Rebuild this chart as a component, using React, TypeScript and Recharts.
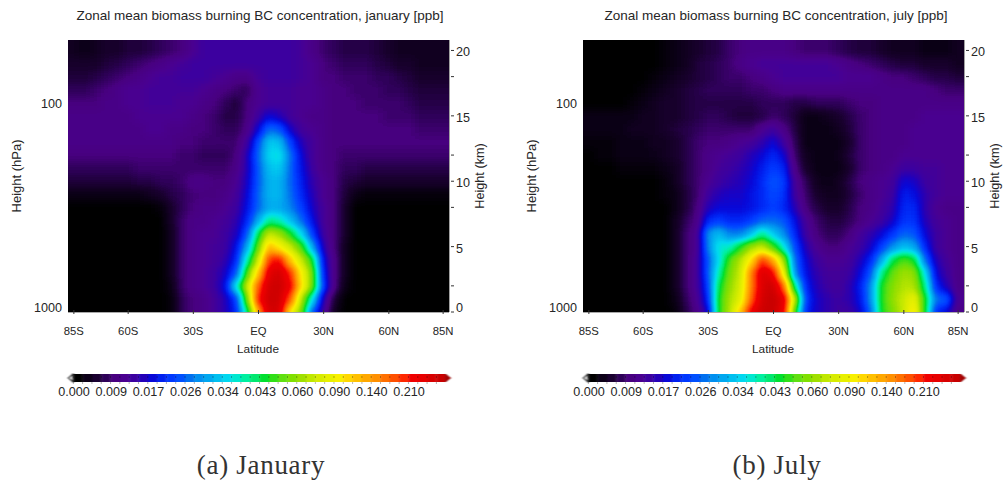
import React from "react";
import { ScatterChart, Scatter, XAxis, YAxis, BarChart, Bar, Cell } from "recharts";

// grid the fields were read on (deg lat, km)
const LATITUDES = [-85,-80,-75,-70,-65,-60,-55,-50,-45,-40,-35,-30,-25,-20,-15,-10,-5,0,5,10,15,20,25,30,35,40,45,50,55,60,65,70,75,80,85];
const ROW_KM = [0,1,2,3,4,5,6,7,8,9,10,11,12,13,14,15,16,17,18,19,20];

// BC concentration in 1e-3 ppb, one list per height
const jan0 = [0,0,0,0,0,0,0,0,0,1,7,9,10,12,15,20,40,130,280,270,90,55,24,13,3,0,0,0,0,0,0,0,0,0,0];
const jan1 = [0,0,0,0,0,0,0,0,0,1,7,9,10,12,15,22,55,200,290,280,170,65,35,15,5,0,0,0,0,0,0,0,0,0,0];
const jan2 = [0,0,0,0,0,0,0,0,0,2,8,10,11,13,18,36,70,170,280,290,220,100,55,22,10,2,0,0,0,0,0,0,0,0,0];
const jan3 = [0,0,0,0,0,0,0,0,0,3,8,10,11,13,16,24,50,110,250,280,190,90,55,20,10,3,0,0,0,0,0,0,0,0,0];
const jan4 = [0,0,0,0,0,0,0,0,0,3,8,10,11,12,14,20,38,70,190,210,110,70,45,18,10,3,0,0,0,0,0,0,0,0,0];
const jan5 = [0,0,0,0,0,0,0,0,0,3,8,10,11,12,13,18,30,52,120,90,70,50,30,15,9,3,0,0,0,0,0,0,0,0,0];
const jan6 = [0,0,0,0,0,0,0,0,0,3,8,10,11,11,13,15,24,42,70,60,45,34,22,13,9,4,0,0,0,0,0,0,0,0,0];
const jan7 = [0,0,0,0,0,0,0,0,0,4,8,10,10,11,12,14,20,30,40,38,32,26,18,12,9,4,0,0,0,0,0,0,0,0,0];
const jan8 = [0,0,0,0,0,0,0,0,1,4,7,9,10,10,11,13,18,25,30,30,27,22,16,12,9,4,0,0,0,0,0,0,0,0,0];
const jan9 = [2,2,2,2,2,2,2,3,4,6,7,8.5,9,9,10,12,17,25,31,31,26,20,15,11,9,5,2,1,1,1,1,1,1,1,1];
const jan10 = [5,5,5,5,5,5,6,6,7,7,8,10,10,9,9,11,16,24,31,31,25,19,14,11,9,6,5,4,4,4,4,4,4,4,4];
const jan11 = [7,7,7,7,7,7,8,8,8,8,8,8,8,8,8,10,15,24,32,33,25,18,13,10,9,7,7,6,6,6,6,6,6,6,6];
const jan12 = [9,9,9,9,9,9,9,9,9,9,8,8,7,7,7,9,15,25,34,35,26,17,12,10,9,8,8,8,8,8,8,8,8,8,8];
const jan13 = [10,10,10,10,10,10,10,10,10,10,9,9,8,8,8,8,13,23,33,32,22,15,12,10,9,9,9,9,9,9,9,9,9,9,9];
const jan14 = [10,10,10,10,10,10,10,11,11,10,10,9,9,8,7,7,10,17,26,24,16,12,11,10,9,9,9,9,9,9,9,9,8,8,8];
const jan15 = [10,10,10,10,10,10,11,11,11,11,11,10,9,8,6,6,9,13,17,15,12,11,10,10,9,9,9,9,9,8,8,8,7,7,7];
const jan16 = [9,9,9,10,10,11,11,12,12,12,11,11,10,9,7,5,9,11,12,12,12,11,11,10,9,9,9,8,8,8,8,7,6,6,6];
const jan17 = [7,7,8,9,10,11,11,12,12,12,12,12,11,10,9,8,7,11,12,12,12,11,11,10,9,9,8,8,8,7,7,6,5,5,5];
const jan18 = [5,5,6,7,8,9,10,11,12,12,13,13,13,12,11,10,10,12,13,13,13,12,11,9,9,8,8,8,7,7,6,5,4,4,4];
const jan19 = [4,4,4,5,6,7,8,9,10,11,12,13,13,13,13,13,13,13,13,13,13,12,11,9,8,7,7,7,6,5,4,4,3,3,3];
const jan20 = [3,2,3,4,4,5,5,6,7,8,9,11,13,13,13,13,13,13,13,13,13,12,10,8,7,6,6,6,5,4,3,3,3,3,3];

const jul0 = [0,0,0,0,0,0,0,0,1,6,10,16,45,65,110,230,290,300,230,50,20,16,14,13,13,16,25,45,55,70,100,45,20,17,10];
const jul1 = [0,0,0,0,0,0,0,0,2,7,11,20,45,62,80,170,280,300,250,70,22,16,14,13,14,18,28,46,58,70,85,46,26,24,11];
const jul2 = [0,0,0,0,0,0,0,0,3,8,12,22,42,58,75,150,270,290,170,40,20,15,13,12,14,19,28,46,56,65,65,40,20,15,10];
const jul3 = [0,0,0,0,0,0,0,0,3,8,12,24,38,55,70,150,270,220,85,28,18,14,12,12,13,17,24,40,52,60,58,35,17,13,10];
const jul4 = [0,0,0,0,0,0,0,0,3,8,12,24,34,50,65,100,190,130,60,26,17,13,11,11,12,15,20,30,42,50,45,26,15,12,10];
const jul5 = [0,0,0,0,0,0,0,0,3,8,11,27,36,37,46,60,70,50,36,23,15,11,9,9,11,13,16,22,28,32,30,20,13,11,10];
const jul6 = [0,0,0,0,0,0,0,0,3,8,11,28,32,27,27,32,40,33,28,20,13,9,7,7,9,12,14,17,21,25,24,17,13,11,10];
const jul7 = [0,0,0,0,0,0,0,0,3,7,10,20,22,20,20,22,25,26,24,18,12,8,6,5,7,9,11,13,16,21,21,15,12,11,10];
const jul8 = [0,0,0,0,0,0,0,0,2,5,9,15,17,17,17,18,20,22,20,15,9,6,4,4,6,9,10,12,14,20,20,14,11,10,10];
const jul9 = [0,0,0,0,0,0,0,1,2,5,8,13,15,16,16,18,20,23,21,13,8,4,3,3,5,8,10,11,13,19,18,14,12,11,11];
const jul10 = [0,0,0,0,0,0,0,1,3,6,8,11,13,14,15,17,20,24,22,12,7,3,2,3,6,9,10,11,12,17,16,13,12,11,11];
const jul11 = [0,0,0,1,1,1,1,2,3,6,8,10,12,13,14,16,19,22,20,10,4,2,2,2,4,8,9,10,11,13,13,12,12,11,11];
const jul12 = [0,1,1,2,2,2,2.5,3,4,6,8,10,11,12,13,15,17,20,17,8,3,2,2,2.5,5,8,9,10,10,11,11,11,11,11,11];
const jul13 = [1,1,1,2,2,2,3,3,4,6,8,9,9,10,11,12,14,17,13,7,2,2,2,2,4,8,9,10,10,10,11,11,11,11,11];
const jul14 = [2,2,2,2,3,3,3,4,5,6,7,8,8,8,8,8,11,13,10,6,2,2,2,3,5,8,9,10,10,10,11,11,11,11,11];
const jul15 = [2,2,2,2,2,3,3,4,4,5,6,7,7,6,5,5,6,8,7,5,2,2,3,4,6,8,9,10,10,10,10,11,11,11,11];
const jul16 = [0,0,0,0,1,2,3,4,4,5,6,6,6,6,6,6,7,7,7,6,6,7,7,7,8,9,9,10,10,10,10,10,10,10,10];
const jul17 = [0,0,0,0,0,1,2,3,4,5,6,7,7,7,7,8,8,9,10,10,10,10,10,10,10,10,10,10,10,10,10,10,9,8,8];
const jul18 = [0,0,0,0,0,0,1,2,3,4,5,6,7,8,8,9,10,11,12,12,12,12,12,12,11,11,11,10,9,9,8,7,6,6,5];
const jul19 = [0,0,0,0,0,0,0,1,2,3,5,6,7,8,10,11,12,12,12,12,12,12,12,11,10,9,8,7,6,5,5,4,4,4,3];
const jul20 = [0,0,0,0,0,0,0,1,2,3,4,5,6,8,9,10,10,10,10,9,8,8,8,7,6,5,5,4,3,3,3,2,2,2,3];

const JAN_ROWS = [jan0,jan1,jan2,jan3,jan4,jan5,jan6,jan7,jan8,jan9,jan10,jan11,jan12,jan13,jan14,jan15,jan16,jan17,jan18,jan19,jan20];
const JUL_ROWS = [jul0,jul1,jul2,jul3,jul4,jul5,jul6,jul7,jul8,jul9,jul10,jul11,jul12,jul13,jul14,jul15,jul16,jul17,jul18,jul19,jul20];

// colour bar: one swatch per entry, a label every fourth swatch
const PALETTE = [
  "#000000","#0c0018","#1a0030","#2e0058","#480080","#4a0090","#3c00a0","#2400b8",
  "#0808d8","#0020f0","#0038ff","#0050ff","#0070f0","#0090f0","#00a8f0","#00c0f0",
  "#00d8f0","#00e8d0","#00f0a0","#00e870","#00e030","#30e018","#60e010","#80e000",
  "#a0e000","#c0e800","#d8ec00","#e8f000","#f8f000","#ffd800","#ffc000","#ffa800",
  "#ff9000","#ff7000","#ff5000","#ff2800","#f00000","#e80000","#d80000","#c80000",
];
const BAR_TICKS = [0, 9, 17, 26, 34, 43, 60, 90, 140, 210];
const BAR_LABELS = ["0.000","0.009","0.017","0.026","0.034","0.043","0.060","0.090","0.140","0.210"];

const LAT_TICKS = [-85,-60,-30,0,30,60,85];
const LAT_LABELS = ["85S","60S","30S","EQ","30N","60N","85N"];
const KM_TICKS = [0,2,5,8,10,12,15,18,20];
const HPA_TICKS = [100,1000];

const PLOT = { left: 68, top: 40, width: 381, height: 272 };
const LAT_MAX = 87.7;
const KM_MAX = 20.8;
const PX_PER_DEG = PLOT.width / (2 * LAT_MAX);
const PX_PER_KM = PLOT.height / KM_MAX;
const TEXT = "#262626";
const FONT = '"Liberation Sans", Arial, sans-serif';

// position in the palette (0..1) of a concentration, through the colour bar's own tick values
function paletteLevel(v: number) {
  const last = PALETTE.length - 1;
  if (v >= 210) return Math.min(1, (36 + ((v - 210) / 90) * 3) / last);
  let i = 0;
  while (BAR_TICKS[i + 1] <= v) i++;
  return ((i + (v - BAR_TICKS[i]) / (BAR_TICKS[i + 1] - BAR_TICKS[i])) * 4) / last;
}

function buildCells(rows: number[][]) {
  return ROW_KM.flatMap((km, r) =>
    LATITUDES.map((lat, c) => ({
      lat,
      km,
      level: paletteLevel(rows[r][c]),
      up: r === ROW_KM.length - 1 ? 4 : (ROW_KM[r + 1] - km) / 2,
      down: r === 0 ? 3 : (km - ROW_KM[r - 1]) / 2,
      edge: c === 0 ? -1 : c === LATITUDES.length - 1 ? 1 : 0,
    }))
  );
}

// grey encodes the palette position; the svg filter blurs it and maps it to colour
function FieldCell(props: any) {
  const { cx, cy, payload } = props;
  const w = 5 * PX_PER_DEG;
  const left = cx - w / 2 - (payload.edge < 0 ? 20 : 0);
  const right = cx + w / 2 + (payload.edge > 0 ? 20 : 0);
  const g = Math.round(payload.level * 255);
  return (
    <rect
      x={left - 0.5}
      y={cy - payload.up * PX_PER_KM - 0.5}
      width={right - left + 1}
      height={(payload.up + payload.down) * PX_PER_KM + 1}
      fill={`rgb(${g},${g},${g})`}
    />
  );
}

function LatTick({ x, y, payload }: any) {
  return (
    <g>
      <line x1={x} x2={x} y1={y} y2={y - 4} stroke="#333" strokeWidth={1} />
      <text x={x} y={y + 21} textAnchor="middle" fontSize={11.3} fill={TEXT} fontFamily={FONT}>
        {LAT_LABELS[LAT_TICKS.indexOf(payload.value)]}
      </text>
    </g>
  );
}

function KmTick({ x, y, payload }: any) {
  const v = payload.value;
  const dy = v === 0 ? 0 : 6;
  return (
    <g>
      <line x1={x} x2={x + 3} y1={y} y2={y} stroke="#333" strokeWidth={1} />
      {v % 5 === 0 && (
        <text x={x + 5} y={y + dy} fontSize={12.6} fill={TEXT} fontFamily={FONT}>
          {v}
        </text>
      )}
    </g>
  );
}

function HpaTick({ x, y, payload }: any) {
  return (
    <text x={x - 4} y={payload.value === 1000 ? y : y + 4} textAnchor="end" fontSize={12.6} fill={TEXT} fontFamily={FONT}>
      {payload.value}
    </text>
  );
}

function Swatch(props: any) {
  const { x, y, width, height, index } = props;
  if (index === 0) {
    return (
      <polygon
        points={`${x + width},${y} ${x + width - 4.5},${y + height / 2} ${x + width},${y + height}`}
        fill="#fff"
        stroke="#333"
        strokeWidth={1.2}
      />
    );
  }
  if (index === PALETTE.length + 1) {
    return <polygon points={`${x},${y} ${x + 5},${y + height / 2} ${x},${y + height}`} fill="#a80000" stroke="#700" strokeWidth={0.5} />;
  }
  return <rect x={x} y={y} width={width + 0.5} height={height} fill={PALETTE[index - 1]} />;
}

const barData = [{ name: "under", v: 1 }, ...PALETTE.map((c) => ({ name: c, v: 1 })), { name: "over", v: 1 }];

function BarTick({ x, y, payload, index }: any) {
  const i = payload.index ?? index;
  if (i < 1 || i > PALETTE.length) return null;
  const band = 4.65;
  return (
    <g>
      <line x1={x - band} x2={x - band} y1={y - 8} y2={y - 6} stroke="#000" strokeOpacity={0.3} />
      <line x1={x - band} x2={x - band} y1={y - 2} y2={y} stroke="#000" strokeOpacity={0.3} />
      {(i - 1) % 4 === 0 && (
        <text x={x - 4} y={y + 11.5} textAnchor="middle" fontSize={12.6} fill={TEXT} fontFamily={FONT}>
          {BAR_LABELS[(i - 1) / 4]}
        </text>
      )}
    </g>
  );
}

function ColorBar() {
  return (
    <BarChart
      width={391}
      height={24}
      data={barData}
      margin={{ top: 0, right: 0, bottom: 0, left: 0 }}
      barCategoryGap={0}
    >
      <XAxis dataKey="name" interval={0} axisLine={false} tickLine={false} tickSize={0} height={16} tick={<BarTick />} />
      <YAxis hide domain={[0, 1]} />
      <Bar dataKey="v" className="bar-soft" isAnimationActive={false} shape={<Swatch />}>
        {barData.map((d) => (
          <Cell key={d.name} />
        ))}
      </Bar>
    </BarChart>
  );
}

function Label({ x, y, rotate, size, children }: any) {
  return (
    <div
      style={{
        position: "absolute",
        left: x,
        top: y,
        transform: `translate(-50%,-50%)${rotate ? " rotate(-90deg)" : ""}`,
        whiteSpace: "nowrap",
        fontFamily: FONT,
        fontSize: size,
        color: TEXT,
      }}
    >
      {children}
    </div>
  );
}

function Panel({ rows, left, title, titleX, caption, captionX }: any) {
  const cells = buildCells(rows);
  return (
    <div style={{ position: "absolute", left, top: 0, width: 500, height: 483 }}>
      <Label x={titleX} y={15} size={13.5}>{title}</Label>
      <div style={{ position: "absolute", left: 0, top: 0 }}>
        <ScatterChart
          width={500}
          height={345}
          margin={{ top: PLOT.top, left: PLOT.left - 40, right: 500 - PLOT.left - PLOT.width - 40, bottom: 345 - PLOT.top - PLOT.height - 28 }}
        >
          <XAxis
            type="number"
            dataKey="lat"
            domain={[-LAT_MAX, LAT_MAX]}
            ticks={LAT_TICKS}
            interval={0}
            height={28}
            tickSize={0}
            tickLine={false}
            stroke="#555"
            tick={<LatTick />}
          />
          <YAxis
            yAxisId="hpa"
            orientation="left"
            type="number"
            scale="log"
            reversed
            domain={[49.2, 1000]}
            allowDataOverflow
            ticks={HPA_TICKS}
            width={40}
            axisLine={false}
            tickLine={false}
            tickSize={0}
            tick={<HpaTick />}
          />
          <YAxis
            yAxisId="km"
            orientation="right"
            type="number"
            dataKey="km"
            domain={[0, KM_MAX]}
            ticks={KM_TICKS}
            interval={0}
            width={40}
            tickSize={0}
            tickLine={false}
            stroke="#444"
            tick={<KmTick />}
          />
          <Scatter
            yAxisId="km"
            data={cells}
            className="field-clip"
            shape={<FieldCell />}
            isAnimationActive={false}
          />
        </ScatterChart>
      </div>
      <Label x={16} y={176} rotate size={13}>Height (hPa)</Label>
      <Label x={480} y={176} rotate size={12.7}>Height (km)</Label>
      <Label x={258} y={349} size={11.8}>Latitude</Label>
      <div style={{ position: "absolute", left: 63.7, top: 374 }}>
        <ColorBar />
      </div>
      <div
        style={{
          position: "absolute",
          left: captionX,
          top: 465,
          transform: "translate(-50%,-50%)",
          fontFamily: '"Liberation Serif", serif',
          fontSize: 27,
          letterSpacing: 0.7,
          color: "#333",
          whiteSpace: "nowrap",
        }}
      >
        {caption}
      </div>
    </div>
  );
}

export default function App() {
  const channel = (start: number) =>
    PALETTE.map((c) => (parseInt(c.slice(start, start + 2), 16) / 255).toFixed(3)).join(" ");
  return (
    <div style={{ position: "absolute", left: 0, top: 0, width: 1004, height: 483, background: "#fff", overflow: "hidden" }}>
      <style>{`
        .field-clip { filter: url(#contour); clip-path: url(#plot-clip); }
        .bar-soft { filter: url(#soft); }
        .recharts-surface { overflow: visible; }
      `}</style>
      <svg width={0} height={0} style={{ position: "absolute" }}>
        <defs>
          <filter id="contour" filterUnits="userSpaceOnUse" x={0} y={0} width={500} height={345} colorInterpolationFilters="sRGB">
            <feGaussianBlur stdDeviation={4} />
            <feComponentTransfer>
              <feFuncR type="table" tableValues={channel(1)} />
              <feFuncG type="table" tableValues={channel(3)} />
              <feFuncB type="table" tableValues={channel(5)} />
            </feComponentTransfer>
          </filter>
          <filter id="soft" colorInterpolationFilters="sRGB">
            <feGaussianBlur stdDeviation="1.2 0" />
          </filter>
          <clipPath id="plot-clip">
            <rect x={PLOT.left} y={PLOT.top} width={PLOT.width} height={PLOT.height} />
          </clipPath>
        </defs>
      </svg>
      <Panel
        rows={JAN_ROWS}
        left={0}
        title="Zonal mean biomass burning BC concentration, january [ppb]"
        titleX={260}
        caption="(a) January"
        captionX={261}
      />
      <Panel
        rows={JUL_ROWS}
        left={515}
        title="Zonal mean biomass burning BC concentration, july [ppb]"
        titleX={261}
        caption="(b) July"
        captionX={262}
      />
    </div>
  );
}
